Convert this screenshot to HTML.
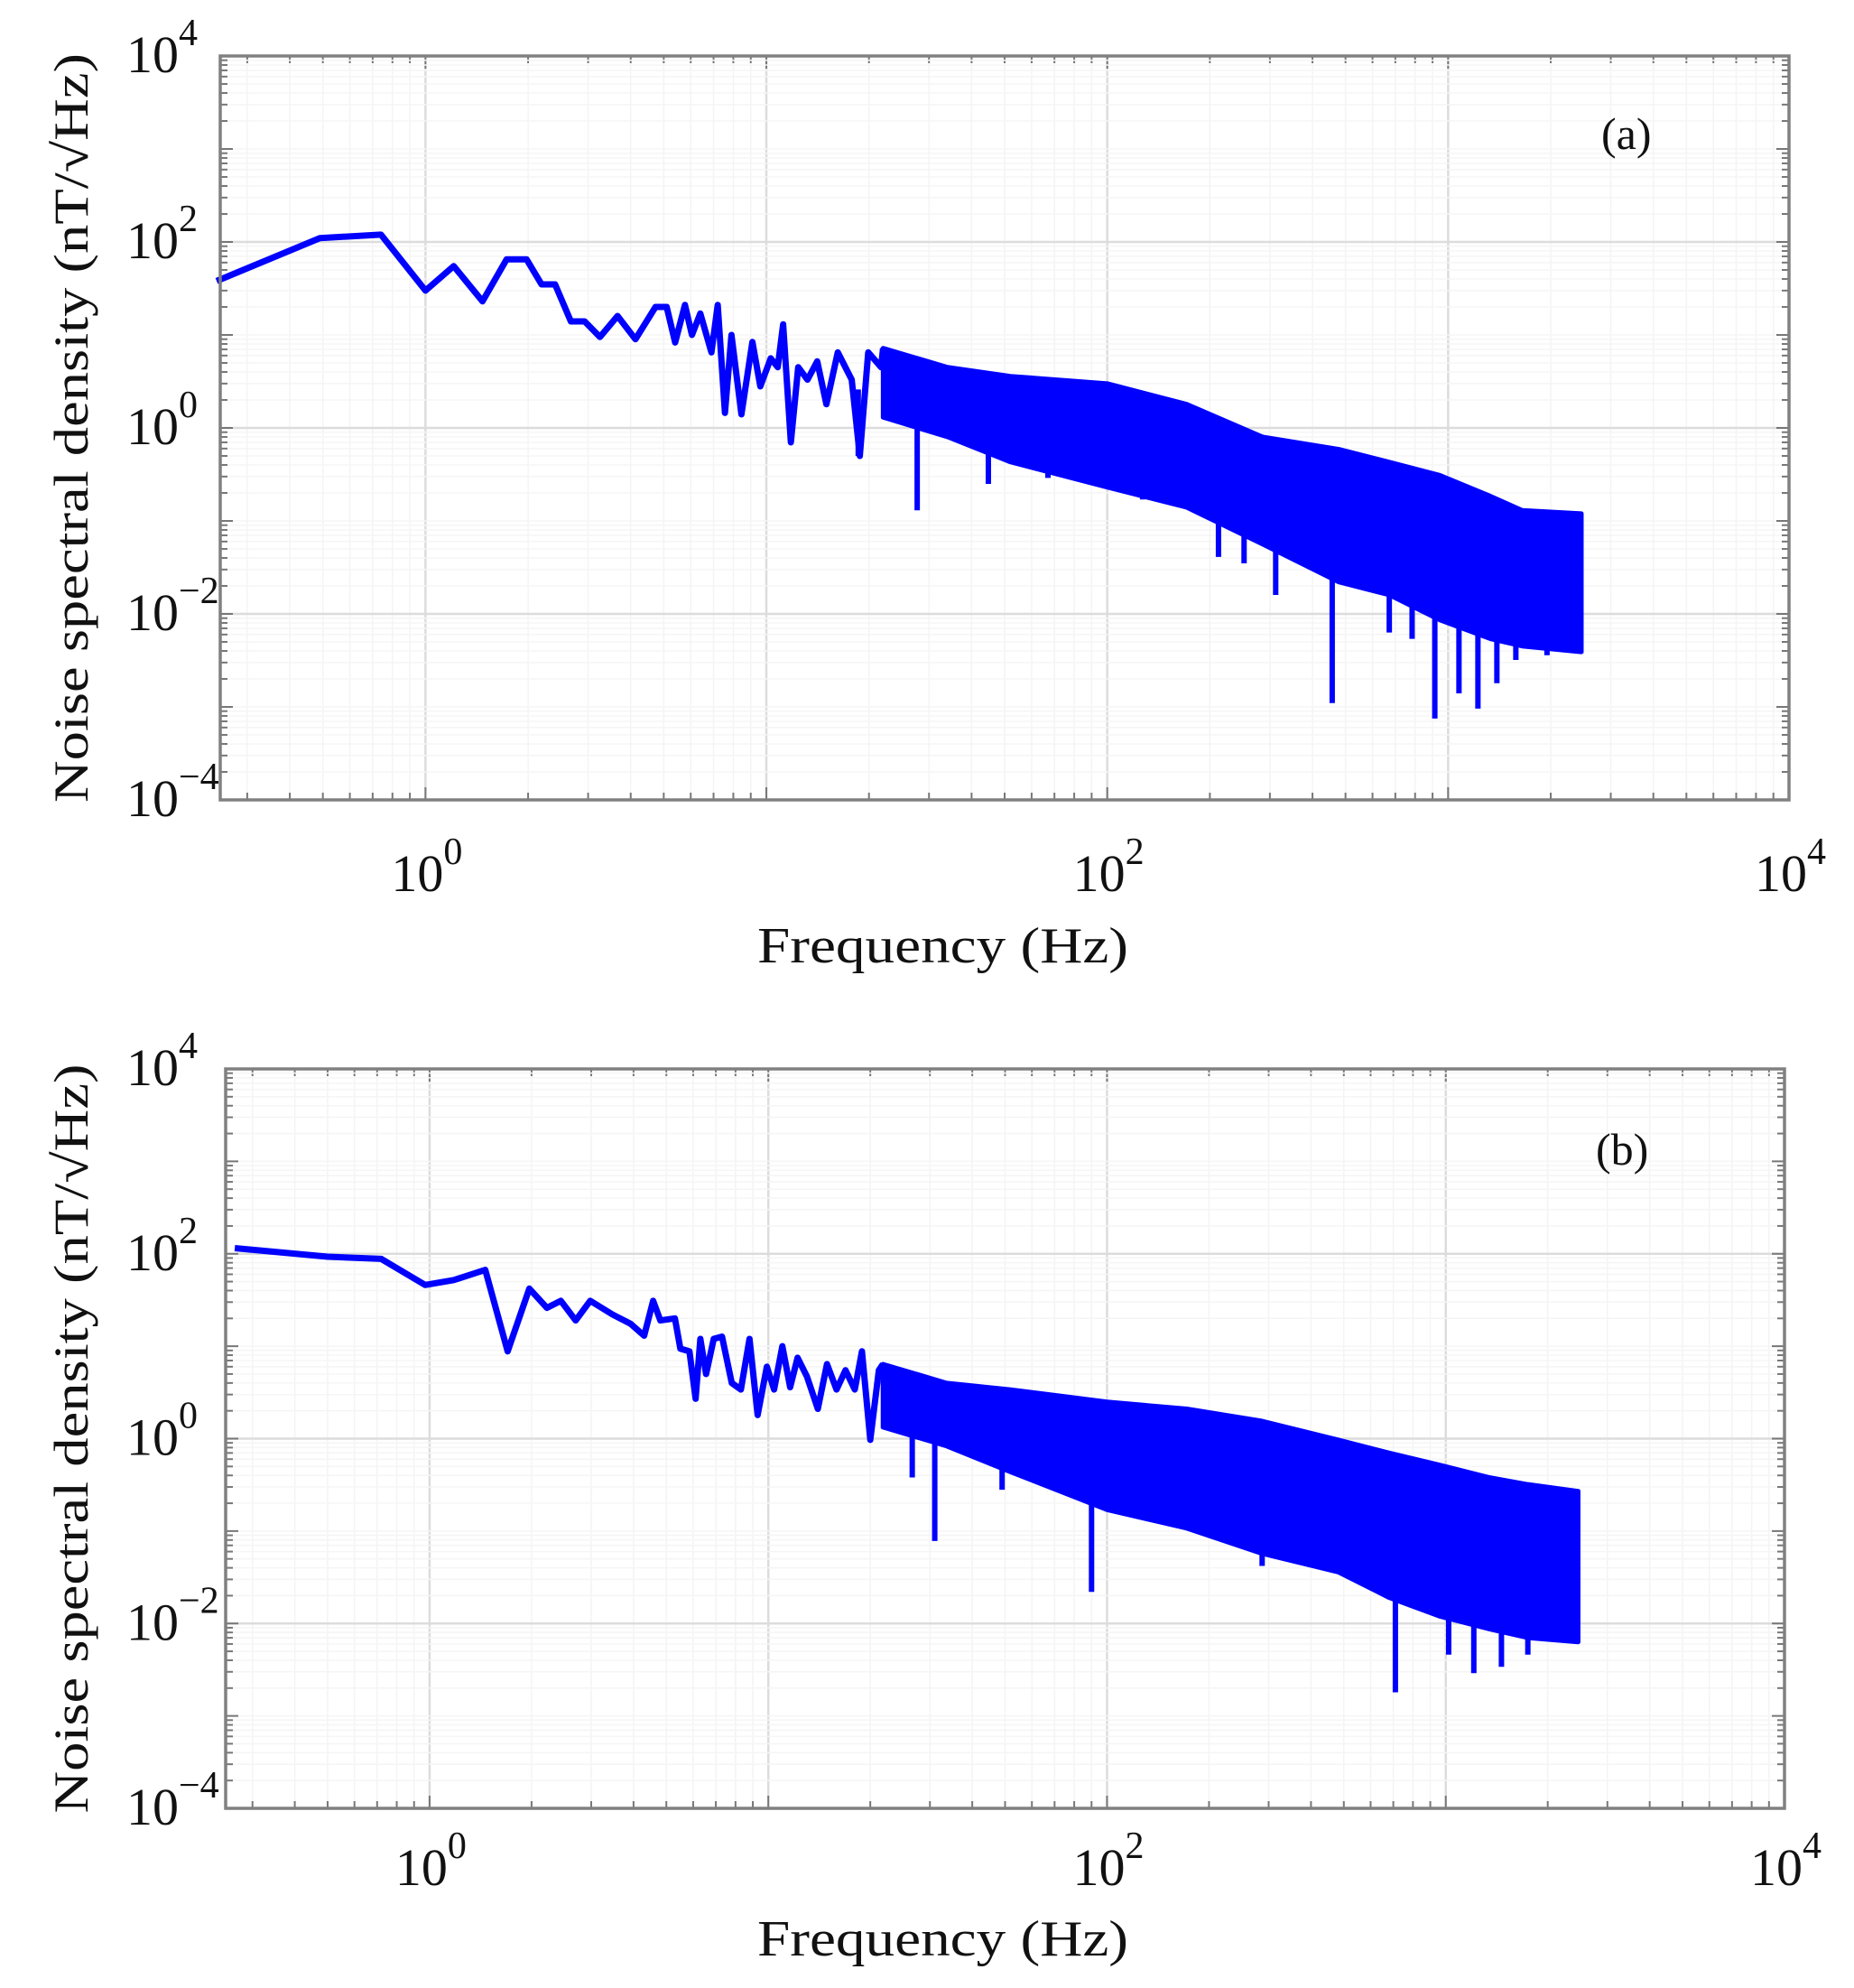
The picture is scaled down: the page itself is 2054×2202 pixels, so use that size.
<!DOCTYPE html>
<html><head><meta charset="utf-8"><style>
html,body{margin:0;padding:0;background:#fff}
svg{display:block}
text{font-family:"Liberation Serif",serif;fill:#111}
</style></head><body>
<svg id="fig" width="2054" height="2202" viewBox="0 0 2054 2202" xmlns="http://www.w3.org/2000/svg"></svg>
<script>
// ---- data: panel (a) ----
const freqA = [0.244,0.49,0.74,1,1.21,1.47,1.73,1.98,2.19,2.4,2.67,2.93,3.25,3.66,4.13,4.73,5.1,5.4,5.77,6.05,6.4,6.9,7.2,7.56,7.9,8.45,9.1,9.6,10.3,10.8,11.2,11.8,12.4,13.2,14.1,15,16.2,17.8,18.8,19.9,21.7];
const valA  = [38,110,120,30,55,23,65,65,35,35,14,14,9.5,16,9,20,20,8.3,21,10,17,6.5,21,1.45,10,1.4,8.4,2.8,5.6,4.5,13,0.7,4.5,3.3,5.2,1.8,6.5,3.3,0.5,6.5,4.5];
const bandFreqA = [22,34,52,100,171,286,478,672,946,1330,1650,2460];
const bandHiA = [7.2,4.5,3.6,3.0,1.8,0.8,0.59,0.43,0.31,0.185,0.13,0.12];
const bandLoA = [1.3,0.8,0.43,0.23,0.14,0.056,0.022,0.016,0.0086,0.0054,0.0045,0.0039];
const spikeFreqA = [18.6,27.7,44.8,67,127,171,212,252,312,457,672,784,914,1076,1223,1390,1580,1950];
const spikeValA  = [0.5,0.13,0.25,0.29,0.17,1.6,0.041,0.035,0.016,0.0011,0.0063,0.0054,0.00075,0.0014,0.00096,0.0018,0.0032,0.0036];
// ---- data: panel (b) ----
const freqB = [0.266,0.5,0.72,0.97,1.18,1.46,1.7,1.97,2.22,2.44,2.7,2.98,3.47,3.92,4.3,4.57,4.8,5.3,5.5,5.85,6.1,6.3,6.55,6.9,7.3,7.8,8.3,8.8,9.3,9.9,10.4,11,11.6,12.2,13,14,14.9,15.9,16.9,18,18.9,20,21.2];
const valB  = [115,93,88,46,52,67,8.8,42,26,31,19,31,22,17.5,13,31,19,20,9.4,8.8,2.7,12,5,12,12.7,4,3.4,12,1.8,6,3.4,10,3.6,7.5,4.7,2.1,6.4,3.4,5.5,3.4,8.8,0.97,5.5];
const bandFreqB = [21.8,33.6,51.6,100,172,287,481,681,957,1346,1747,2460];
const bandHiB = [6.4,4,3.4,2.5,2.1,1.55,0.97,0.7,0.52,0.38,0.32,0.27];
const bandLoB = [1.33,0.83,0.44,0.17,0.107,0.057,0.036,0.019,0.012,0.0087,0.007,0.0063];
const spikeFreqB = [26.6,31,49,90,114,164,200,287,370,440,570,710,1020,1210,1460,1747];
const spikeValB  = [0.38,0.078,0.28,0.022,0.17,0.23,0.107,0.042,0.057,0.067,0.107,0.0018,0.0046,0.0029,0.0034,0.0046];
const xTickExp = [0,2,4];
const yTickExp = [4,2,0,-2,-4];

const NS = "http://www.w3.org/2000/svg";
const svg = document.getElementById('fig');
function mk(tag, attrs, parent){
  const e = document.createElementNS(NS, tag);
  for (const k in attrs) e.setAttribute(k, attrs[k]);
  (parent||svg).appendChild(e);
  return e;
}
function panel(cfg, F, V, bF, bH, bL, sF, sV){
  const L=cfg.left, R=cfg.right, T=cfg.top, B=cfg.bottom;
  const xmin=Math.log10(0.25), xmax=4, ymin=-4, ymax=4;
  const X = f => L + (Math.log10(f)-xmin)/(xmax-xmin)*(R-L);
  const Y = v => B - (Math.log10(v)-ymin)/(ymax-ymin)*(B-T);
  const g = mk('g', {});
  
  
  const grid = mk('g', {}, g);
  
  
  for (let e=-1; e<4; e++) for (let m=1; m<10; m++){
    const f = m*Math.pow(10,e); if (f<0.25 || f>10000) continue;
    const x = X(f);
    mk('line',{x1:x,x2:x,y1:T,y2:B,stroke:m===1?'#dcdcdc':'#f4f4f4','stroke-width':m===1?2.5:1.5},grid);
    mk('line',{x1:x,x2:x,y1:B,y2:B-(m===1?14:8),stroke:'#777','stroke-width':2},grid);
    mk('line',{x1:x,x2:x,y1:T,y2:T+(m===1?14:8),stroke:'#777','stroke-width':2},grid);
  }
  for (let e=-4; e<4; e++) for (let m=1; m<10; m++){
    const v = m*Math.pow(10,e);
    const y = Y(v);
    mk('line',{x1:L,x2:R,y1:y,y2:y,stroke:(m===1&&e%2===0)?'#dcdcdc':'#f5f5f5','stroke-width':(m===1&&e%2===0)?2.5:1.5},grid);
    mk('line',{x1:L,x2:L+(m===1?14:8),y1:y,y2:y,stroke:'#777','stroke-width':2},grid);
    mk('line',{x1:R,x2:R-(m===1?14:8),y1:y,y2:y,stroke:'#777','stroke-width':2},grid);
  }
  let pts = bF.map((f,i)=>X(f)+','+Y(bH[i]));
  pts = pts.concat(bF.slice().reverse().map((f,i)=>X(f)+','+Y(bL[bL.length-1-i])));
  const band = mk('polygon',{points:pts.join(' '),fill:'#0000ff',stroke:'#0000ff','stroke-width':5,'stroke-linejoin':'round'},g);
  
  
  sF.forEach((f,i)=>{
    const x = X(f);
    let k=0; while (k<bF.length-2 && bF[k+1]<f) k++;
    const t = Math.max(0,Math.min(1,(Math.log10(f)-Math.log10(bF[k]))/(Math.log10(bF[k+1])-Math.log10(bF[k]))));
    const vmid = Math.pow(10, Math.log10(bL[k])*(1-t)+Math.log10(bL[k+1])*t + 0.3);
    const s = mk('line',{x1:x,x2:x,y1:Y(vmid),y2:Y(sV[i]),stroke:'#0000ff','stroke-width':6,'stroke-linecap':'butt'},g);
    
    
  });
  const line = mk('polyline',{points:F.map((f,i)=>X(f)+','+Y(V[i])).join(' ')+' '+X(bF[0])+','+Y(bH[0]),fill:'none',stroke:'#0000ff','stroke-width':7,'stroke-linejoin':'round'},g);
  
  
  const box = mk('rect',{x:L,y:T,width:R-L,height:B-T,fill:'none',stroke:'#808080','stroke-width':3.5},g);
  
  
  xTickExp.forEach(e=>{
    const x = X(Math.pow(10,e));
    const t = mk('text',{x:x-38,y:cfg.xTickY,'font-size':58},g);
    
    
    t.textContent='10';
    const s = mk('tspan',{dy:-30,'font-size':42},t); s.textContent=String(e);
  });
  yTickExp.forEach(e=>{
    const y = Y(Math.pow(10,e));
    const t = mk('text',{x:140,y:y+18,'font-size':58},g);
    
    
    t.textContent='10';
    const s = mk('tspan',{dy:-30,'font-size':42},t); s.textContent=(e<0?'\u2212':'')+Math.abs(e);
  });
  const xl = mk('text',{x:839,y:cfg.xLabelY,'font-size':56,textLength:411,lengthAdjust:'spacingAndGlyphs'},g);
  
  
  xl.textContent='Frequency (Hz)';
  const cy=(T+B)/2;
  const yl = mk('text',{x:0,y:0,'font-size':54,'text-anchor':'middle',textLength:830,lengthAdjust:'spacingAndGlyphs',transform:`translate(97,${cy}) rotate(-90)`},g);
  
  
  yl.textContent='Noise spectral density (nT/\u221AHz)';
  const pl = mk('text',{x:cfg.labX,y:cfg.labY,'font-size':50},g);
  
  
  pl.textContent=cfg.lab;
}
panel({name:'panel-a',left:244,right:1982,top:62,bottom:886,xTickY:987,xLabelY:1066,labX:1774,labY:165,lab:'(a)'},
  freqA,valA,bandFreqA,bandHiA,bandLoA,spikeFreqA,spikeValA);
panel({name:'panel-b',left:250,right:1977,top:1184,bottom:2003,xTickY:2088,xLabelY:2166,labX:1768,labY:1290,lab:'(b)'},
  freqB,valB,bandFreqB,bandHiB,bandLoB,spikeFreqB,spikeValB);
</script>
</body></html>
